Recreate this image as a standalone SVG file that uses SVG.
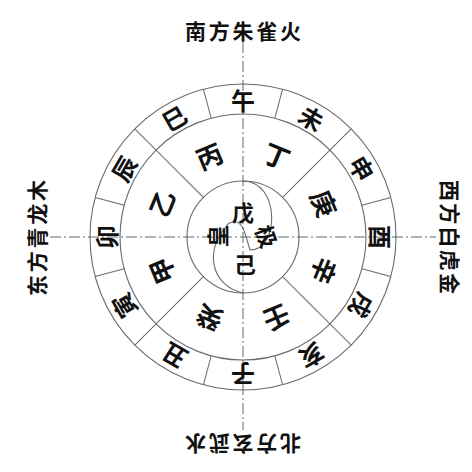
<svg xmlns="http://www.w3.org/2000/svg" width="472" height="472" viewBox="0 0 472 472">
<style>
.ring{fill:none;stroke:#6a6a6a;stroke-width:1.1}
.div{stroke:#6a6a6a;stroke-width:1}
.axis{stroke:#555;stroke-width:0.9;stroke-dasharray:11 3 2 3;fill:none}
.t{font-family:"Noto Sans CJK SC","Noto Sans CJK TC",sans-serif;font-weight:700;fill:#111;text-anchor:middle;dominant-baseline:central}
.br{font-size:24px}
.st{font-size:26px}
.ce{font-size:22px}
.dir{font-size:21px}
</style>
<rect width="472" height="472" fill="#fff"/>
<g id="rings">
<circle class="ring" cx="243" cy="237" r="153"/>
<circle class="ring" cx="243" cy="237" r="123"/>
<circle class="ring" cx="243" cy="237" r="56"/>
<path class="ring" d="M243,181 C280,181 280,250 250,250 C246,238 244,222 235,222 C230,222 227,224 226,227 C205,250 210,285 243,293"/>
</g>
<g id="connectors">
<g class="div">
<line x1="243" y1="181" x2="243" y2="84" transform="rotate(45 243 237)"/>
<line x1="243" y1="181" x2="243" y2="84" transform="rotate(135 243 237)"/>
<line x1="243" y1="181" x2="243" y2="84" transform="rotate(225 243 237)"/>
<line x1="243" y1="181" x2="243" y2="84" transform="rotate(315 243 237)"/>
<line x1="243" y1="114" x2="243" y2="84" transform="rotate(15 243 237)"/>
<line x1="243" y1="114" x2="243" y2="84" transform="rotate(75 243 237)"/>
<line x1="243" y1="114" x2="243" y2="84" transform="rotate(105 243 237)"/>
<line x1="243" y1="114" x2="243" y2="84" transform="rotate(165 243 237)"/>
<line x1="243" y1="114" x2="243" y2="84" transform="rotate(195 243 237)"/>
<line x1="243" y1="114" x2="243" y2="84" transform="rotate(255 243 237)"/>
<line x1="243" y1="114" x2="243" y2="84" transform="rotate(285 243 237)"/>
<line x1="243" y1="114" x2="243" y2="84" transform="rotate(345 243 237)"/>
</g>
<line class="axis" x1="243" y1="42" x2="243" y2="430"/>
<line class="axis" x1="50" y1="237" x2="436" y2="237"/>
</g>
<g id="branches" class="t br">
<text x="243" y="99">午</text>
<text x="243" y="99" transform="rotate(30 243 237)">未</text>
<text x="243" y="99" transform="rotate(60 243 237)">申</text>
<text x="243" y="99" transform="rotate(90 243 237)">酉</text>
<text x="243" y="99" transform="rotate(120 243 237)">戌</text>
<text x="243" y="99" transform="rotate(150 243 237)">亥</text>
<text x="243" y="99" transform="rotate(180 243 237)">子</text>
<text x="243" y="99" transform="rotate(210 243 237)">丑</text>
<text x="243" y="99" transform="rotate(240 243 237)">寅</text>
<text x="243" y="99" transform="rotate(270 243 237)">卯</text>
<text x="243" y="99" transform="rotate(300 243 237)">辰</text>
<text x="243" y="99" transform="rotate(330 243 237)">巳</text>
</g>
<g id="stems" class="t st">
<text x="243" y="148" transform="rotate(22.5 243 237)">丁</text>
<text x="243" y="148" transform="rotate(67.5 243 237)">庚</text>
<text x="243" y="148" transform="rotate(112.5 243 237)">辛</text>
<text x="243" y="148" transform="rotate(157.5 243 237)">壬</text>
<text x="243" y="148" transform="rotate(202.5 243 237)">癸</text>
<text x="243" y="148" transform="rotate(247.5 243 237)">甲</text>
<text x="243" y="148" transform="rotate(292.5 243 237)">乙</text>
<text x="243" y="148" transform="rotate(337.5 243 237)">丙</text>
</g>
<g id="center" class="t ce">
<text x="243" y="211">戊</text>
<text x="245" y="263">己</text>
<text x="216" y="236" transform="rotate(-90 216 236)">皇</text>
<text x="268" y="236" transform="rotate(70 268 236)">极</text>
</g>
<g id="directions" class="t dir">
<text x="243" y="30" textLength="116" lengthAdjust="spacing">南方朱雀火</text>
<text x="243" y="445" textLength="116" lengthAdjust="spacing" transform="rotate(180 243 445)">北方玄武水</text>
<text x="36" y="238" textLength="116" lengthAdjust="spacing" transform="rotate(-90 36 238)">东方青龙木</text>
<text x="451" y="237" textLength="114" lengthAdjust="spacing" transform="rotate(90 451 237)">西方白虎金</text>
</g>
</svg>
